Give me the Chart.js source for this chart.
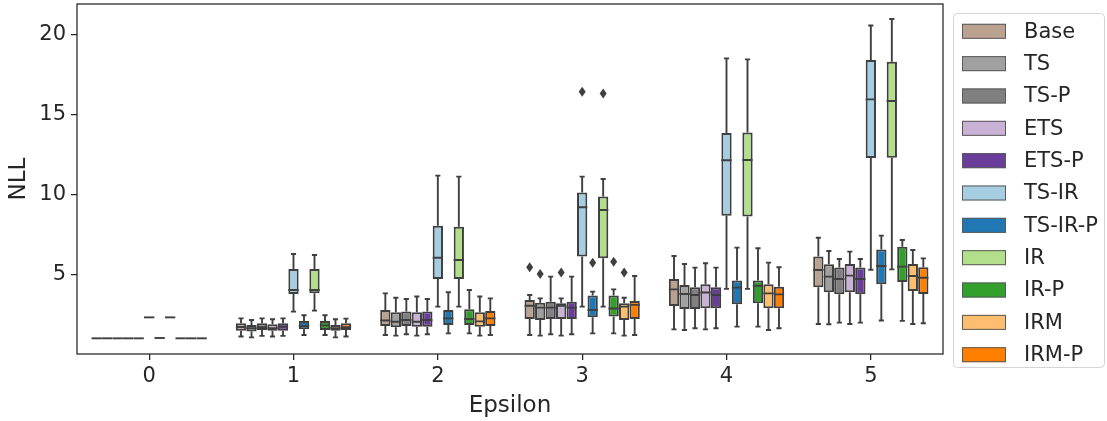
<!DOCTYPE html>
<html>
<head>
<meta charset="utf-8">
<script src="https://cdn.jsdelivr.net/npm/chart.js@4.4.1/dist/chart.umd.min.js"></script>
<style>
  html, body { margin: 0; padding: 0; background: #fff; }
</style>
</head>
<body>
<canvas id="nll" width="1107" height="421"></canvas>
<script>
// NLL per epsilon, one box per method

const epsilons = ['0', '1', '2', '3', '4', '5'];

const methods = ['Base', 'TS', 'TS-P', 'ETS', 'ETS-P', 'TS-IR', 'TS-IR-P', 'IR', 'IR-P', 'IRM', 'IRM-P'];

const colors = ['#bba190', '#a0a0a0', '#808080', '#cab2d6', '#6a3d9a', '#a6cee3',
                '#1f78b4', '#b2df8a', '#33a02c', '#fdbf6f', '#ff7f00'];

// rows follow methods, columns follow epsilons
const whiskerLow = [
  [1.04, 1.15, 1.25, 1.25, 1.60, 1.94],
  [1.04, 1.10, 1.21, 1.21, 1.56, 1.92],
  [1.04, 1.19, 1.29, 1.29, 1.67, 2.02],
  [1.04, 1.15, 1.21, 1.21, 1.60, 1.94],
  [1.04, 1.19, 1.29, 1.29, 1.67, 2.02],
  [2.35, 2.71, 3.02, 3.02, 4.13, 5.33],
  [1.06, 1.25, 1.35, 1.35, 1.77, 2.15],
  [2.35, 2.77, 3.02, 3.02, 4.13, 5.35],
  [1.04, 1.25, 1.35, 1.35, 1.77, 2.13],
  [1.04, 1.10, 1.21, 1.21, 1.56, 1.94],
  [1.04, 1.15, 1.25, 1.25, 1.67, 1.98]
];

const quartile1 = [
  [1.04, 1.52, 1.81, 2.25, 3.06, 4.23],
  [1.04, 1.46, 1.73, 2.19, 2.88, 3.92],
  [1.04, 1.56, 1.81, 2.25, 2.88, 3.79],
  [1.04, 1.52, 1.77, 2.25, 2.92, 3.92],
  [1.04, 1.52, 1.77, 2.25, 2.92, 3.79],
  [2.35, 3.81, 4.75, 6.15, 8.71, 12.31],
  [1.06, 1.60, 1.88, 2.35, 3.17, 4.42],
  [2.35, 3.85, 4.75, 6.04, 8.65, 12.33],
  [1.04, 1.56, 1.88, 2.40, 3.23, 4.56],
  [1.04, 1.52, 1.77, 2.19, 2.92, 4.00],
  [1.04, 1.56, 1.81, 2.25, 2.92, 3.81]
];

const medians = [
  [1.04, 1.75, 2.15, 3.08, 4.10, 5.31],
  [1.04, 1.67, 2.08, 2.96, 3.81, 4.90],
  [1.04, 1.73, 2.19, 2.96, 3.75, 4.75],
  [1.04, 1.67, 2.08, 3.08, 3.90, 4.96],
  [1.04, 1.77, 2.19, 2.96, 3.75, 4.75],
  [2.35, 4.06, 6.08, 9.23, 12.17, 15.98],
  [1.06, 1.81, 2.29, 2.81, 4.21, 5.56],
  [2.35, 4.06, 5.94, 9.06, 12.19, 15.88],
  [1.04, 1.85, 2.25, 2.90, 4.33, 5.52],
  [1.04, 1.67, 2.10, 3.02, 3.85, 4.94],
  [1.04, 1.73, 2.29, 3.13, 3.79, 4.83]
];

const quartile3 = [
  [1.04, 1.98, 2.81, 3.44, 4.75, 6.15],
  [1.04, 1.88, 2.67, 3.27, 4.38, 5.67],
  [1.04, 1.98, 2.71, 3.33, 4.23, 5.46],
  [1.04, 1.92, 2.67, 3.23, 4.42, 5.69],
  [1.04, 1.98, 2.71, 3.33, 4.23, 5.46],
  [2.35, 5.38, 8.08, 10.15, 13.88, 18.44],
  [1.06, 2.12, 2.81, 3.71, 4.65, 6.60],
  [2.35, 5.38, 8.02, 9.90, 13.90, 18.33],
  [1.04, 2.12, 2.85, 3.71, 4.65, 6.77],
  [1.04, 1.88, 2.67, 3.23, 4.42, 5.69],
  [1.04, 1.98, 2.75, 3.38, 4.27, 5.48]
];

const whiskerHigh = [
  [1.04, 2.29, 3.85, 3.75, 6.19, 7.33],
  [1.04, 2.19, 3.58, 3.54, 5.69, 6.50],
  [1.04, 2.29, 3.50, 4.90, 5.46, 6.00],
  [1.04, 2.23, 3.65, 3.54, 5.73, 6.46],
  [1.04, 2.29, 3.50, 4.90, 5.46, 6.00],
  [2.35, 6.31, 11.21, 11.15, 18.54, 20.60],
  [1.06, 2.48, 3.92, 3.96, 6.71, 7.46],
  [2.35, 6.25, 11.15, 11.00, 18.48, 21.00],
  [1.04, 2.48, 4.06, 4.10, 6.67, 7.19],
  [1.04, 2.23, 3.65, 3.58, 5.77, 6.56],
  [1.04, 2.27, 3.54, 4.94, 5.48, 6.04]
];

// [method index, epsilon index, value]
const outliers = [
  [0, 3, 5.48], [1, 3, 5.06], [3, 3, 5.15], [5, 3, 16.46],
  [6, 3, 5.77], [7, 3, 16.35], [8, 3, 5.83], [9, 3, 5.15]
];

const yTicks = [5, 10, 15, 20];

const INK = '#3f3f3f';
const TEXT = '#262626';
const FONT = "'DejaVu Sans', sans-serif";

// whiskers, caps, medians and fliers on top of the floating bars
const boxPlot = {
  id: 'boxPlot',
  afterDatasetsDraw(chart) {
    const ctx = chart.ctx;
    const y = chart.scales.y;
    ctx.save();
    ctx.strokeStyle = INK;
    ctx.lineWidth = 1.9;
    methods.forEach((m, d) => {
      chart.getDatasetMeta(d).data.forEach((bar, i) => {
        const x = bar.x;
        const half = bar.width / 2;
        const cap = bar.width / 4;
        const yLo = y.getPixelForValue(whiskerLow[d][i]);
        const yQ1 = y.getPixelForValue(quartile1[d][i]);
        const yMed = y.getPixelForValue(medians[d][i]);
        const yQ3 = y.getPixelForValue(quartile3[d][i]);
        const yHi = y.getPixelForValue(whiskerHigh[d][i]);
        ctx.beginPath();
        if (yLo - yQ1 > 0.5) {
          ctx.moveTo(x, yQ1); ctx.lineTo(x, yLo);
          ctx.moveTo(x - cap, yLo); ctx.lineTo(x + cap, yLo);
        }
        if (yQ3 - yHi > 0.5) {
          ctx.moveTo(x, yQ3); ctx.lineTo(x, yHi);
          ctx.moveTo(x - cap, yHi); ctx.lineTo(x + cap, yHi);
        }
        ctx.moveTo(x - half, yMed); ctx.lineTo(x + half, yMed);
        ctx.stroke();
      });
    });
    ctx.fillStyle = INK;
    outliers.forEach(([d, i, v]) => {
      const bar = chart.getDatasetMeta(d).data[i];
      const py = y.getPixelForValue(v);
      ctx.beginPath();
      ctx.moveTo(bar.x, py - 5);
      ctx.lineTo(bar.x + 3.5, py);
      ctx.lineTo(bar.x, py + 5);
      ctx.lineTo(bar.x - 3.5, py);
      ctx.closePath();
      ctx.fill();
    });
    ctx.restore();
  }
};

// axes frame and the boxed legend on the right
const frameAndLegend = {
  id: 'frameAndLegend',
  afterDraw(chart) {
    const ctx = chart.ctx;
    const a = chart.chartArea;
    ctx.save();
    ctx.strokeStyle = TEXT;
    ctx.lineWidth = 1.25;
    ctx.strokeRect(a.left, a.top, a.right - a.left, a.bottom - a.top);

    const lx = 953.5, ly = 13.5, lw = 151, lh = 354;
    ctx.strokeStyle = '#d4d4d4';
    ctx.lineWidth = 1;
    ctx.beginPath();
    ctx.roundRect(lx, ly, lw, lh, 4);
    ctx.stroke();

    ctx.font = '21px ' + FONT;
    ctx.textBaseline = 'middle';
    ctx.textAlign = 'left';
    methods.forEach((m, i) => {
      const cy = 31.3 + i * 32.34;
      ctx.fillStyle = colors[i];
      ctx.fillRect(962, cy - 7.5, 44, 15);
      ctx.strokeStyle = '#5a5a5a';
      ctx.strokeRect(962.5, cy - 7, 43, 14);
      ctx.fillStyle = TEXT;
      ctx.fillText(m, 1024, cy + 1);
    });
    ctx.restore();
  }
};

new Chart(document.getElementById('nll'), {
  type: 'bar',
  data: {
    labels: epsilons,
    datasets: methods.map((m, d) => ({
      label: m,
      data: epsilons.map((e, i) => [quartile1[d][i], quartile3[d][i]]),
      backgroundColor: colors[d],
      borderColor: INK,
      borderWidth: 2,
      borderSkipped: false,
      categoryPercentage: 0.8,
      barPercentage: 0.98
    }))
  },
  options: {
    responsive: false,
    animation: false,
    layout: { padding: { top: 4, right: 164, left: 0, bottom: 0 } },
    plugins: {
      legend: { display: false },
      tooltip: { enabled: false }
    },
    scales: {
      x: {
        type: 'category',
        offset: true,
        grid: { display: true, drawOnChartArea: false, drawTicks: true, tickLength: 6, offset: false, color: TEXT, lineWidth: 1.25 },
        border: { display: false },
        ticks: { color: TEXT, font: { family: FONT, size: 21 }, padding: 4, maxRotation: 0 },
        title: { display: true, text: 'Epsilon', color: TEXT, font: { family: FONT, size: 23 }, padding: { top: 0, bottom: 1 } },
        afterFit(scale) { scale.height = 67; scale.paddingLeft = 0; scale.paddingRight = 0; }
      },
      y: {
        min: 0.06,
        max: 21.94,
        grid: { display: true, drawOnChartArea: false, drawTicks: true, tickLength: 6, color: TEXT, lineWidth: 1.25 },
        border: { display: false },
        ticks: { color: TEXT, font: { family: FONT, size: 21 }, padding: 5 },
        afterBuildTicks(scale) { scale.ticks = yTicks.map(v => ({ value: v })); },
        title: { display: true, text: 'NLL', color: TEXT, font: { family: FONT, size: 23 }, padding: { top: 5, bottom: 0 } },
        afterFit(scale) { scale.width = 77; scale.paddingTop = 0; scale.paddingBottom = 0; }
      }
    }
  },
  plugins: [boxPlot, frameAndLegend]
});
</script>
</body>
</html>
